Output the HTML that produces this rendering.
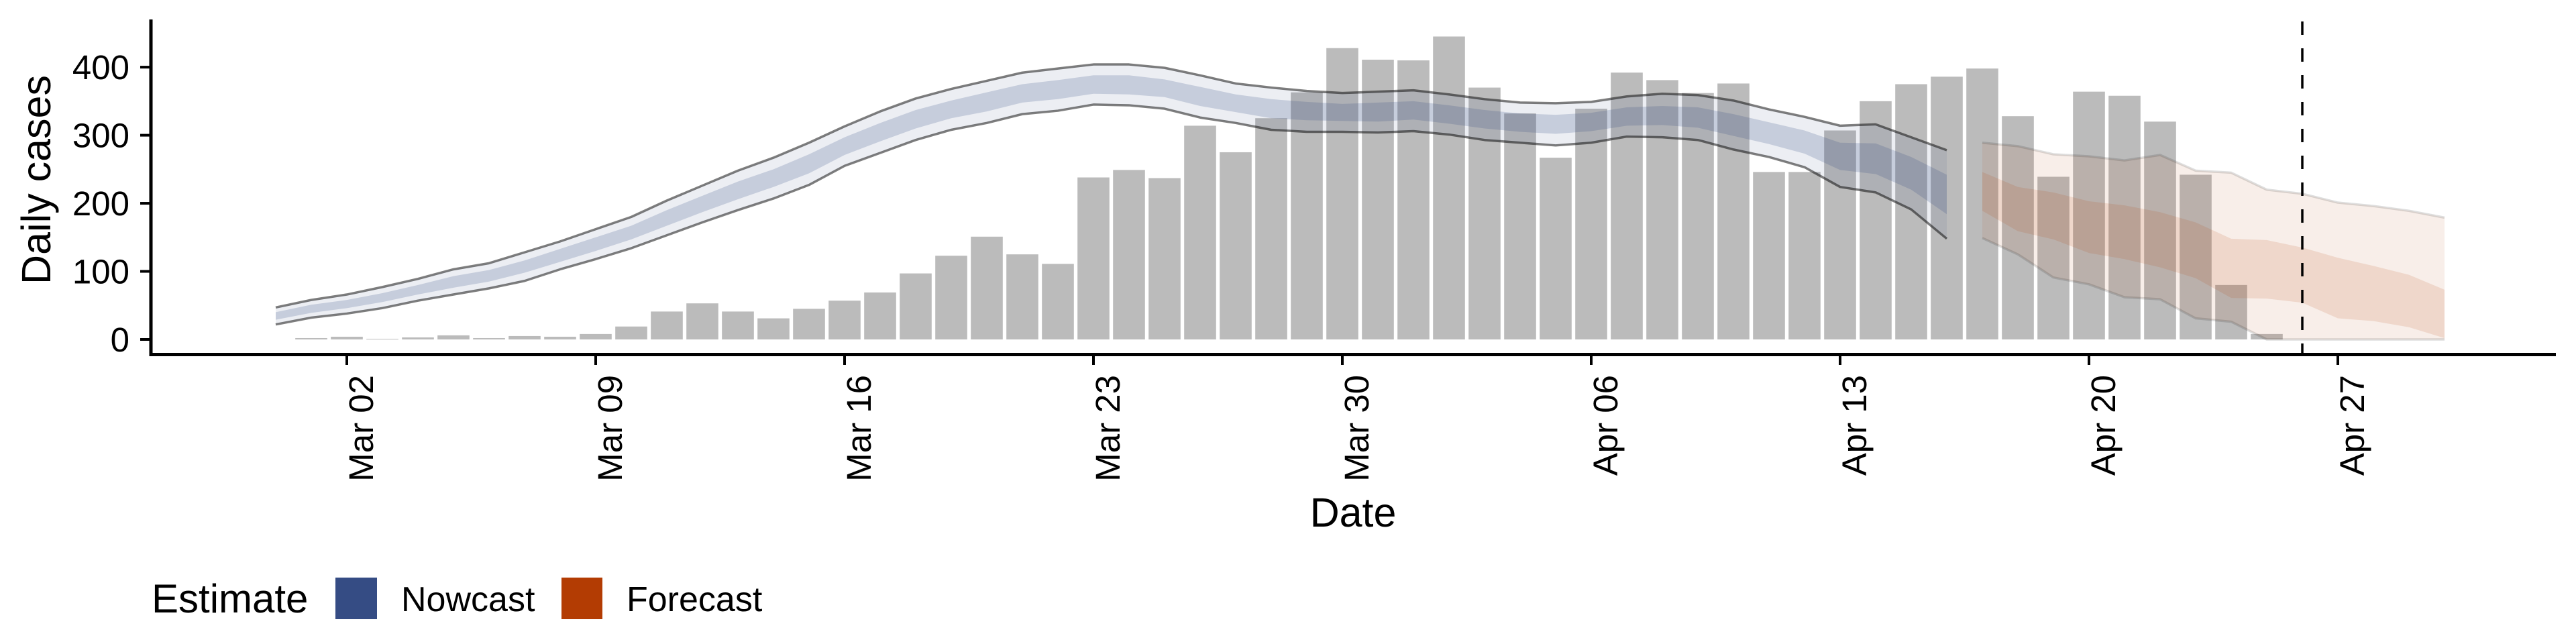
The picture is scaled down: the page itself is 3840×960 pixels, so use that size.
<!DOCTYPE html>
<html><head><meta charset="utf-8"><title>Daily cases nowcast and forecast</title>
<style>html,body{margin:0;padding:0;background:#fff}svg{display:block}text{font-family:"Liberation Sans",Arial,sans-serif}</style>
</head><body>
<svg id="chart" xmlns="http://www.w3.org/2000/svg" width="3840" height="960" viewBox="0 0 3840 960">
<g id="bars"></g>
<g id="bands"></g>
<g id="axes"></g>
</svg>
<script>
// ---- data ----
// bars: day index from Mar 02 (d=0); bars start Mar 01 (d=-1)
const barStart = -1;
const cases = [2,4,1,3,6,2,5,4,8,19,41,53,41,31,45,57,69,97,123,151,125,111,238,249,237,314,275,325,363,428,411,410,445,370,332,267,339,392,381,362,376,246,246,307,350,375,386,398,328,239,364,358,320,242,80,8];
// nowcast from Feb 29 (d=-2) to Apr 16 (d=45)
const nowStart = -2;
const nowUpper90 = [47,58,66,77,89,103,112,128,144,162,180,204,226,248,267,289,313,335,354,368,380,392,398,404,404,399,388,376,370,365,362,364,366,360,353,348,347,349,357,361,359,351,338,327,314,316,297,278];
const nowLower90 = [22,32,38,46,57,66,75,86,103,118,134,153,172,190,207,227,255,274,293,308,318,331,336,345,344,339,326,318,308,305,305,304,306,301,293,289,285,289,298,297,293,279,268,253,224,216,191,148];
const nowUpper50 = [40,51,58,68,80,93,102,116,133,150,167,190,211,232,250,272,297,318,337,351,363,375,381,388,388,382,371,360,353,349,346,348,350,344,337,332,330,333,341,343,341,331,319,307,289,288,268,242];
const nowLower50 = [29,39,46,55,66,76,85,98,114,130,147,167,187,206,224,244,271,291,310,325,335,348,353,361,360,356,343,334,325,322,321,320,323,317,310,305,302,306,314,315,311,299,287,273,249,243,220,184];
// forecast from Apr 17 (d=46) to Apr 30 (d=59)
const fcStart = 46;
const fcUpper90 = [289,284,272,269,263,271,248,245,220,214,201,196,189,179];
const fcLower90 = [149,125,91,81,62,59,31,26,0,0,0,0,0,0];
const fcUpper50 = [246,224,216,203,197,187,172,148,146,135,120,108,95,73];
const fcLower50 = [189,159,147,127,118,106,90,61,60,54,31,27,18,2];
const yTicks = [0,100,200,300,400];
const xTickDays = [0,7,14,21,28,35,42,49,56];
const xTickLabels = ["Mar 02","Mar 09","Mar 16","Mar 23","Mar 30","Apr 06","Apr 13","Apr 20","Apr 27"];
const forecastDateDay = 55;

// ---- scales ----
const X = d => 517 + 53 * d;
const Y = v => 506 - v * 1.0147;
const NS = "http://www.w3.org/2000/svg";
function mk(tag, attrs, parent){const e=document.createElementNS(NS,tag);for(const k in attrs)e.setAttribute(k,attrs[k]);parent.appendChild(e);return e;}

const gb = document.getElementById('bars');
cases.forEach((v,i)=>{
  const d = barStart + i;
  const r = mk('rect',{x:X(d)-23.8,y:Y(v),width:47.6,height:Math.max(0,Y(0)-Y(v)),fill:'#bbbbbb'},gb);
  
  
});

const gband = document.getElementById('bands');
function ribbon(start, up, lo, fill, op, name){
  let p = up.map((v,i)=>X(start+i)+','+Y(v));
  let q = lo.map((v,i)=>X(start+i)+','+Y(v)).reverse();
  const e = mk('polygon',{points:p.concat(q).join(' '),fill:fill,'fill-opacity':op},gband);
  
  
}
function line(start, arr, op, name){
  const e = mk('polyline',{points:arr.map((v,i)=>X(start+i)+','+Y(v)).join(' '),fill:'none',stroke:'#000','stroke-opacity':op,'stroke-width':3.5,'stroke-linejoin':'round'},gband);
  
  
}
ribbon(nowStart, nowUpper90, nowLower90, '#334a83', 0.095, 'nowcast-outer-band');
ribbon(nowStart, nowUpper50, nowLower50, '#334a83', 0.2, 'nowcast-inner-band');
line(nowStart, nowUpper90, 0.5, 'nowcast-upper-line');
line(nowStart, nowLower90, 0.5, 'nowcast-lower-line');
ribbon(fcStart, fcUpper90, fcLower90, '#b5400b', 0.09, 'forecast-outer-band');
ribbon(fcStart, fcUpper50, fcLower50, '#b5400b', 0.13, 'forecast-inner-band');
line(fcStart, fcUpper90, 0.13, 'forecast-upper-line');
line(fcStart, fcLower90, 0.13, 'forecast-lower-line');

const ga = document.getElementById('axes');
let dl = mk('line',{x1:X(forecastDateDay),x2:X(forecastDateDay),y1:32,y2:528,stroke:'#000','stroke-width':3.5,'stroke-dasharray':'20 20'},ga);


let ya = mk('line',{x1:225,x2:225,y1:29,y2:531,stroke:'#000','stroke-width':5},ga);


let xa = mk('line',{x1:223,x2:3810,y1:528.5,y2:528.5,stroke:'#000','stroke-width':5},ga);


yTicks.forEach(v=>{
  const t = mk('line',{x1:209,x2:225,y1:Y(v),y2:Y(v),stroke:'#000','stroke-width':4},ga);
  
  
  const l = mk('text',{x:193,y:Y(v)+18,'text-anchor':'end','font-size':51,fill:'#000'},ga);
  l.textContent = v;
  
  
});
xTickDays.forEach((d,i)=>{
  const t = mk('line',{x1:X(d),x2:X(d),y1:528,y2:544,stroke:'#000','stroke-width':4},ga);
  
  
  const l = mk('text',{x:0,y:0,'text-anchor':'end','font-size':51,fill:'#000',transform:'translate('+(X(d)+39)+',559) rotate(-90)'},ga);
  l.textContent = xTickLabels[i];
  
  
});
</script>
<svg style="position:absolute;left:0;top:0" width="3840" height="960">
<text transform="translate(75,268) rotate(-90)" text-anchor="middle" font-size="61" fill="#000">Daily cases</text>
<text x="2017" y="785" text-anchor="middle" font-size="61" fill="#000">Date</text>
<g>
<text x="226" y="913" font-size="60" fill="#000">Estimate</text>
<rect x="500" y="861" width="62" height="62" fill="#354c84"/>
<text x="598" y="911" font-size="52" fill="#000">Nowcast</text>
<rect x="837" y="861" width="61" height="62" fill="#b33c03"/>
<text x="934" y="911" font-size="52" fill="#000">Forecast</text>
</g>
</svg>
</body></html>
